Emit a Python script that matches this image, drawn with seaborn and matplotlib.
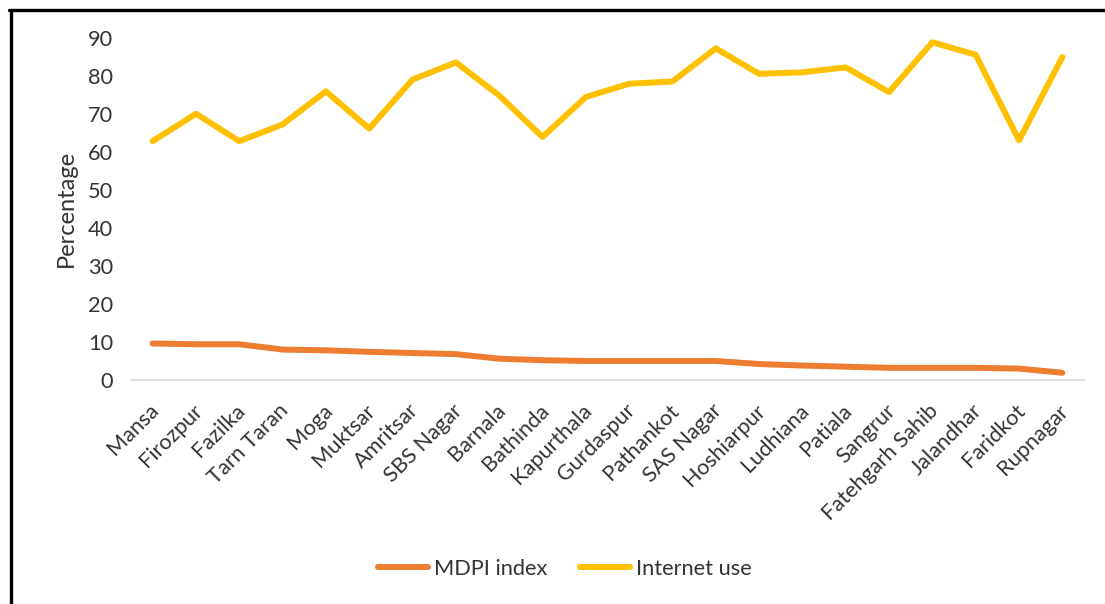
import matplotlib
matplotlib.use("Agg")
import matplotlib.pyplot as plt
import seaborn as sns
import pandas as pd
from matplotlib.lines import Line2D
from matplotlib.transforms import ScaledTranslation

districts = ["Mansa", "Firozpur", "Fazilka", "Tarn Taran", "Moga", "Muktsar", "Amritsar",
             "SBS Nagar", "Barnala", "Bathinda", "Kapurthala", "Gurdaspur", "Pathankot",
             "SAS Nagar", "Hoshiarpur", "Ludhiana", "Patiala", "Sangrur", "Fatehgarh Sahib",
             "Jalandhar", "Faridkot", "Rupnagar"]
mdpi_index = [9.6, 9.4, 9.4, 8.0, 7.8, 7.4, 7.1, 6.8, 5.6, 5.2, 5.0, 5.0, 5.0, 5.0,
              4.2, 3.8, 3.5, 3.2, 3.2, 3.2, 3.0, 1.9]
internet_use = [62.8, 70.0, 62.8, 67.2, 75.9, 66.1, 79.0, 83.5, 74.8, 63.9, 74.4, 77.9,
                78.5, 87.2, 80.5, 80.9, 82.2, 75.7, 88.8, 85.5, 63.0, 84.9]
series_names = ["MDPI index", "Internet use"]
y_ticks = [0, 10, 20, 30, 40, 50, 60, 70, 80, 90]

sns.set_style("white")
plt.rcParams["font.family"] = ["Lato", "DejaVu Sans"]
text_color = "#333333"
fs = 15.7

df = pd.DataFrame({
    "District": districts * 2,
    "idx": list(range(len(districts))) * 2,
    "Value": mdpi_index + internet_use,
    "Series": [series_names[0]] * len(districts) + [series_names[1]] * len(districts),
})

fig = plt.figure(figsize=(11.05, 6.04), dpi=100)
ax = fig.add_axes([131 / 1105, 1 - 380 / 604, (1084 - 131) / 1105, (380 - 37.7) / 604])

palette = {"MDPI index": "#ED7D31", "Internet use": "#FFC000"}
sns.lineplot(data=df, x="idx", y="Value", hue="Series", palette=palette, ax=ax,
             linewidth=4.3, legend=False, sort=False)
for ln in ax.lines:
    ln.set_solid_capstyle("round")
    ln.set_solid_joinstyle("round")

n = len(districts)
ax.set_xlim(-0.5, n - 0.5)
ax.set_ylim(0, 90)
ax.set_yticks(y_ticks)
ax.set_yticklabels([str(t) for t in y_ticks], fontsize=fs, color=text_color)
ax.set_xticks(range(n))
ax.set_xticklabels(districts, fontsize=fs, color=text_color, rotation=45,
                   ha="right", va="top", rotation_mode="anchor")
ax.tick_params(axis="both", length=0)
ax.tick_params(axis="y", pad=13)
ax.tick_params(axis="x", pad=6)
shift = ScaledTranslation(-4 / 100, -12 / 100, fig.dpi_scale_trans)
for lab in ax.get_xticklabels():
    lab.set_transform(lab.get_transform() + shift)
ax.set_xlabel("")
ax.set_ylabel("Percentage", fontsize=17, color=text_color, labelpad=8)

for s in ["top", "right", "left"]:
    ax.spines[s].set_visible(False)
ax.spines["bottom"].set_color("#D9D9D9")
ax.spines["bottom"].set_linewidth(1.2)

handles = [Line2D([], [], color=palette[s], linewidth=4.3, solid_capstyle="round")
           for s in series_names]
fig.legend(handles, series_names, loc="center", bbox_to_anchor=(565 / 1105, 1 - 569 / 604),
           ncol=2, frameon=False, fontsize=fs, handlelength=2.3, handletextpad=0.28,
           columnspacing=1.5, labelcolor=text_color)

# outer border (left and top)
fig.add_artist(Line2D([10.5 / 1105, 10.5 / 1105], [0, 1 - 10 / 604], color="black",
                      linewidth=2.4, transform=fig.transFigure))
fig.add_artist(Line2D([9.3 / 1105, 1], [1 - 10 / 604, 1 - 10 / 604], color="black",
                      linewidth=2.4, transform=fig.transFigure))

fig.savefig("out.png", dpi=100, facecolor="white")
